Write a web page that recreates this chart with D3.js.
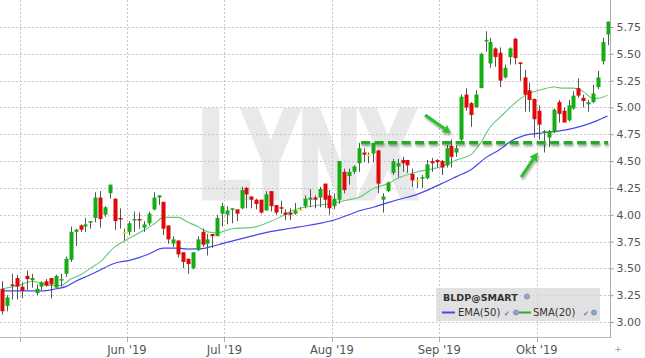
<!DOCTYPE html>
<html>
<head>
<meta charset="utf-8">
<script src="https://cdn.jsdelivr.net/npm/d3@7"></script>
<style>
  body { margin: 0; background: #fff; }
  svg { display: block; }
  text { font-family: "DejaVu Sans", Verdana, sans-serif; }
</style>
</head>
<body>
<svg id="chart" width="645" height="358"></svg>
<script>
// trading days, 25 Apr - 21 Oct 2019
const dates = [
  "04-25","04-26","04-29","04-30",
  "05-01","05-02","05-03","05-06","05-07","05-08","05-09","05-10","05-13","05-14","05-15","05-16","05-17","05-20","05-21","05-22","05-23","05-24","05-28","05-29","05-30","05-31",
  "06-03","06-04","06-05","06-06","06-07","06-10","06-11","06-12","06-13","06-14","06-17","06-18","06-19","06-20","06-21","06-24","06-25","06-26","06-27","06-28",
  "07-01","07-02","07-03","07-05","07-08","07-09","07-10","07-11","07-12","07-15","07-16","07-17","07-18","07-19","07-22","07-23","07-24","07-25","07-26","07-29","07-30","07-31",
  "08-01","08-02","08-05","08-06","08-07","08-08","08-09","08-12","08-13","08-14","08-15","08-16","08-19","08-20","08-21","08-22","08-23","08-26","08-27","08-28","08-29","08-30",
  "09-03","09-04","09-05","09-06","09-09","09-10","09-11","09-12","09-13","09-16","09-17","09-18","09-19","09-20","09-23","09-24","09-25","09-26","09-27","09-30",
  "10-01","10-02","10-03","10-04","10-07","10-08","10-09","10-10","10-11","10-14","10-15","10-16","10-17","10-18","10-21"
]

const open = [
  3.31,3.15,3.35,3.41,
  3.33,3.43,3.39,3.27,3.33,3.38,3.41,3.32,3.39,3.45,3.58,3.84,3.90,3.89,3.93,3.97,4.16,4.00,4.20,4.15,3.97,3.84,
  3.84,3.95,3.96,3.88,3.92,4.05,4.16,4.12,3.90,3.73,3.76,3.65,3.59,3.50,3.67,3.84,3.73,3.82,3.80,4.01,
  4.00,4.05,4.05,4.06,4.25,4.17,4.14,4.14,4.04,4.22,4.09,4.07,4.02,4.02,4.01,4.05,4.08,4.14,4.16,4.16,4.29,4.18,
  4.08,4.14,4.40,4.36,4.40,4.48,4.58,4.56,4.57,4.60,4.14,4.22,4.39,4.45,4.51,4.51,4.38,4.32,4.34,4.34,4.50,4.51,
  4.50,4.46,4.64,4.58,4.70,5.12,5.04,5.00,5.18,5.62,5.41,5.55,5.51,5.28,5.47,5.64,5.42,5.28,5.16,5.08,
  4.97,4.77,4.72,4.77,5.05,4.97,4.88,4.99,5.18,5.09,5.03,5.05,5.19,5.43,5.68
]
const high = [
  3.38,3.25,3.45,3.44,
  3.37,3.48,3.45,3.35,3.38,3.40,3.41,3.44,3.45,3.61,3.89,3.87,3.91,3.97,3.94,4.21,4.22,4.08,4.28,4.15,4.06,3.87,
  3.94,4.03,4.02,3.94,4.03,4.21,4.18,4.12,3.90,3.80,3.76,3.65,3.59,3.65,3.80,3.87,3.82,3.82,4.00,4.11,
  4.08,4.06,4.05,4.26,4.26,4.17,4.15,4.14,4.22,4.22,4.09,4.13,4.05,4.06,4.11,4.07,4.18,4.24,4.18,4.26,4.29,4.23,
  4.20,4.50,4.43,4.43,4.46,4.67,4.62,4.58,4.67,4.60,4.20,4.31,4.52,4.52,4.54,4.51,4.43,4.35,4.37,4.51,4.53,4.52,
  4.51,4.65,4.70,4.65,5.12,5.18,5.05,5.16,5.51,5.71,5.65,5.56,5.56,5.40,5.56,5.65,5.42,5.35,5.23,5.08,
  5.02,4.79,4.79,4.99,5.07,5.00,5.07,5.15,5.27,5.12,5.07,5.21,5.34,5.65,5.80
]
const low = [
  3.07,3.10,3.21,3.21,
  3.22,3.30,3.32,3.25,3.30,3.33,3.22,3.32,3.33,3.42,3.56,3.71,3.84,3.84,3.87,3.93,3.88,3.98,4.15,3.86,3.87,3.76,
  3.81,3.84,3.87,3.84,3.90,4.04,4.09,3.81,3.73,3.70,3.60,3.50,3.45,3.49,3.66,3.70,3.62,3.69,3.80,3.89,
  3.91,3.92,3.94,4.05,4.06,4.06,4.05,4.01,4.04,4.03,4.00,4.01,3.95,3.95,4.00,4.04,4.06,4.07,4.06,4.07,4.06,4.00,
  4.05,4.10,4.20,4.28,4.38,4.40,4.49,4.48,4.49,4.20,4.02,4.21,4.37,4.35,4.40,4.39,4.26,4.25,4.25,4.33,4.40,4.44,
  4.37,4.44,4.44,4.54,4.68,4.97,4.82,5.00,5.18,5.52,5.37,5.38,5.19,5.27,5.40,5.40,5.25,4.96,4.96,4.72,
  4.70,4.58,4.63,4.76,4.86,4.86,4.87,4.98,5.09,5.00,4.96,5.04,5.17,5.40,5.58
]
const close = [
  3.10,3.23,3.34,3.33,
  3.29,3.40,3.41,3.31,3.37,3.34,3.35,3.43,3.40,3.59,3.84,3.86,3.86,3.91,3.94,4.16,3.96,4.07,4.28,3.94,3.96,3.84,
  3.92,3.96,3.95,3.91,4.01,4.16,4.18,3.87,3.77,3.77,3.63,3.56,3.54,3.65,3.77,3.72,3.77,3.80,3.97,4.08,
  4.04,4.06,4.01,4.23,4.19,4.14,4.10,4.02,4.19,4.08,4.02,4.06,4.00,4.00,4.04,4.05,4.15,4.16,4.14,4.24,4.14,4.06,
  4.15,4.50,4.23,4.40,4.45,4.62,4.56,4.56,4.67,4.29,4.17,4.30,4.50,4.48,4.48,4.46,4.32,4.32,4.35,4.47,4.48,4.49,
  4.44,4.62,4.54,4.62,5.10,5.00,4.93,5.12,5.50,5.63,5.61,5.47,5.25,5.37,5.55,5.46,5.41,5.12,5.07,4.89,
  4.84,4.78,4.78,4.98,4.94,4.86,5.02,5.11,5.11,5.06,5.05,5.13,5.28,5.61,5.80
]

// moving averages
const smaDates = ["04-25","05-01","05-03","05-09","05-13","05-15","05-17","05-21","05-23","05-29","05-31","06-05","06-10","06-12","06-17","06-19","06-21","06-25","06-27","07-02","07-09","07-12","07-17","07-19","07-24","07-29","08-01","08-06","08-08","08-13","08-16","08-20","08-26","09-03","09-06","09-11","09-13","09-17","09-19","09-24","09-26","10-01","10-04","10-08","10-10","10-14","10-16","10-17","10-21"]
const smaValues = [3.31,3.35,3.38,3.34,3.34,3.40,3.44,3.50,3.56,3.70,3.755,3.83,3.91,3.975,3.975,3.93,3.89,3.84,3.83,3.87,3.88,3.92,3.98,4.03,4.07,4.09,4.11,4.14,4.16,4.245,4.29,4.34,4.40,4.45,4.51,4.56,4.67,4.82,4.91,5.04,5.11,5.16,5.19,5.18,5.18,5.15,5.085,5.085,5.115]
const emaDates = ["04-25","05-07","05-10","05-14","05-16","05-21","05-23","05-29","06-03","06-05","06-07","06-12","06-17","06-19","06-24","06-26","06-28","07-03","07-09","07-12","07-17","07-19","07-24","07-29","08-01","08-06","08-08","08-13","08-16","08-20","08-26","09-03","09-06","09-11","09-16","09-19","09-23","09-26","10-01","10-04","10-09","10-14","10-17","10-21"]
const emaValues = [3.29,3.29,3.31,3.33,3.38,3.44,3.485,3.548,3.575,3.60,3.634,3.688,3.688,3.68,3.684,3.706,3.73,3.765,3.80,3.833,3.858,3.874,3.895,3.92,3.951,4.00,4.035,4.07,4.113,4.14,4.19,4.29,4.355,4.42,4.53,4.61,4.68,4.74,4.76,4.774,4.795,4.83,4.88,4.92]

const yTicks = [3.00,3.25,3.50,3.75,4.00,4.25,4.50,4.75,5.00,5.25,5.50,5.75]
const monthStarts = ["05-01","06-03","07-01","08-01","09-03","10-01"]
const monthLabels = ["","Jun '19","Jul '19","Aug '19","Sep '19","Okt '19"]

// annotation: support level and two arrows (candle index, price)
const supportLevel = 4.67
const supportFrom = 73.5
const supportTo = 124.1
const arrowFrom = [[86.6, 4.93], [106.3, 4.35]]
const arrowTo = [[91.9, 4.76], [109.7, 4.58]]

const plotRight = 610, plotBottom = 338
const svg = d3.select("#chart")

const x = d3.scaleBand().domain(dates).range([0, plotRight]).paddingInner(0.3).paddingOuter(0.15)
const bw = x.bandwidth()
const xi = d3.scaleLinear().domain([0, dates.length - 1])
    .range([x(dates[0]) + bw / 2, x(dates[dates.length - 1]) + bw / 2])
const y = d3.scaleLinear().domain([3.0, 5.75]).range([322, 27])
const monthX = d => x(d) - x.step() * 0.15

const defs = svg.append("defs")
const shadow = defs.append("filter").attr("id", "shadow").attr("filterUnits", "userSpaceOnUse")
    .attr("x", 0).attr("y", 0).attr("width", 645).attr("height", 358)
shadow.append("feDropShadow").attr("dx", 1).attr("dy", 2).attr("stdDeviation", 1.3)
    .attr("flood-color", "#000").attr("flood-opacity", 0.35)

// watermark
svg.append("text")
    .attr("transform", "translate(199,197) scale(0.68,1)")
    .style("font-family", "Liberation Sans, Arial, sans-serif")
    .attr("font-weight", "bold")
    .attr("font-size", 124)
    .attr("fill", "#e9e9e9")
    .attr("stroke", "#e9e9e9").attr("stroke-width", 7).attr("stroke-linejoin", "miter")
    .text("LYNX")

// grid
svg.append("g").selectAll("line").data(yTicks).join("line")
    .attr("x1", 0).attr("x2", plotRight)
    .attr("y1", d => Math.round(y(d)) + 0.5).attr("y2", d => Math.round(y(d)) + 0.5)
    .attr("stroke", "#c8c8c8").attr("stroke-dasharray", "2,2")
svg.append("g").selectAll("line").data(monthStarts).join("line")
    .attr("x1", d => Math.round(monthX(d)) + 0.5).attr("x2", d => Math.round(monthX(d)) + 0.5)
    .attr("y1", 0).attr("y2", plotBottom)
    .attr("stroke", "#c8c8c8").attr("stroke-dasharray", "2,2")

// moving averages
const maLine = d3.line().x(d => x(d[0]) + bw / 2).y(d => y(d[1])).curve(d3.curveMonotoneX)
svg.append("path").datum(d3.zip(emaDates, emaValues))
    .attr("d", maLine).attr("fill", "none").attr("stroke", "#4646ee").attr("stroke-width", 1.2)
svg.append("path").datum(d3.zip(smaDates, smaValues))
    .attr("d", maLine).attr("fill", "none").attr("stroke", "#62c878").attr("stroke-width", 1.1)

// candles
const candles = dates.map((d, i) => ({date: d, o: open[i], h: high[i], l: low[i], c: close[i]}))
const cg = svg.append("g")
cg.selectAll("line").data(candles).join("line")
    .attr("x1", d => Math.round(x(d.date) + bw / 2) + 0.5)
    .attr("x2", d => Math.round(x(d.date) + bw / 2) + 0.5)
    .attr("y1", d => y(d.h)).attr("y2", d => y(d.l))
    .attr("stroke", "#555").attr("stroke-width", 1)
cg.selectAll("rect").data(candles).join("rect")
    .attr("x", d => Math.round(x(d.date) + bw / 2) - 1.5)
    .attr("width", 4)
    .attr("y", d => y(Math.max(d.o, d.c)))
    .attr("height", d => Math.max(1.5, Math.abs(y(d.o) - y(d.c))))
    .attr("fill", d => d.c > d.o ? "#14ae14" : d.c < d.o ? "#e00808" : "#f0e800")

// support line and arrows
svg.append("line")
    .attr("x1", xi(supportFrom)).attr("x2", xi(supportTo))
    .attr("y1", y(supportLevel)).attr("y2", y(supportLevel))
    .attr("stroke", "#25a825").attr("stroke-width", 3.5).attr("stroke-dasharray", "9,4.5")
    .attr("filter", "url(#shadow)")

const ag = svg.append("g").attr("filter", "url(#shadow)")
arrowFrom.forEach((f, k) => {
    const t = arrowTo[k]
    const x0 = xi(f[0]), y0 = y(f[1]), x1 = xi(t[0]), y1 = y(t[1])
    const ang = Math.atan2(y1 - y0, x1 - x0)
    const L = 8, Wd = 4.5
    const bx = x1 - L * Math.cos(ang), by = y1 - L * Math.sin(ang)
    ag.append("line").attr("x1", x0).attr("y1", y0).attr("x2", bx).attr("y2", by)
        .attr("stroke", "#2fbf2f").attr("stroke-width", 3.2)
    ag.append("path")
        .attr("d", `M${x1},${y1}L${bx + Wd * Math.sin(ang)},${by - Wd * Math.cos(ang)}L${bx - Wd * Math.sin(ang)},${by + Wd * Math.cos(ang)}Z`)
        .attr("fill", "#2fbf2f")
})

// right axis
const yAxis = svg.append("g").attr("transform", `translate(${plotRight + 0.5},0)`)
    .call(d3.axisRight(y).tickValues(yTicks).tickSize(3).tickPadding(3).tickFormat(d3.format(".2f")))
yAxis.select(".domain").remove()
yAxis.selectAll("line").attr("stroke", "#999")
yAxis.selectAll("text").attr("fill", "#555").attr("font-size", 11)
    .style("font-family", "DejaVu Sans, Verdana, sans-serif")
svg.append("line").attr("x1", plotRight + 0.5).attr("x2", plotRight + 0.5).attr("y1", 0).attr("y2", plotBottom)
    .attr("stroke", "#aaa")

// bottom axis
svg.append("line").attr("x1", 0).attr("x2", plotRight).attr("y1", plotBottom - 0.5).attr("y2", plotBottom - 0.5)
    .attr("stroke", "#bbb")
svg.append("g").selectAll("line").data(monthStarts).join("line")
    .attr("x1", d => Math.round(monthX(d)) + 0.5).attr("x2", d => Math.round(monthX(d)) + 0.5)
    .attr("y1", plotBottom).attr("y2", plotBottom + 4)
    .attr("stroke", "#aaa")
svg.append("g").selectAll("text").data(monthStarts).join("text")
    .attr("x", d => monthX(d)).attr("y", 354)
    .attr("text-anchor", "middle").attr("font-size", 11.5).attr("fill", "#555")
    .text((d, i) => monthLabels[i])
svg.append("text").attr("x", 618).attr("y", 352).attr("text-anchor", "middle")
    .attr("font-size", 9).attr("fill", "#999").text("+")

// legend
const lg = svg.append("g").attr("transform", "translate(436,288)")
lg.append("rect").attr("width", 164).attr("height", 33).attr("fill", "#d4d4d4").attr("fill-opacity", 0.7)
lg.append("text").attr("x", 7).attr("y", 13).attr("font-size", 9.5).attr("font-weight", "bold")
    .attr("fill", "#333").text("BLDP@SMART")
const icon = (g, cx, cy) => g.append("circle").attr("cx", cx).attr("cy", cy).attr("r", 2.6)
    .attr("fill", "#90a4c4").attr("stroke", "#6a7fa4").attr("stroke-width", 0.6)
icon(lg, 91, 8.5)
lg.append("line").attr("x1", 6).attr("x2", 19).attr("y1", 24.5).attr("y2", 24.5).attr("stroke", "#4646ee").attr("stroke-width", 2)
lg.append("text").attr("x", 22).attr("y", 28).attr("font-size", 10).attr("fill", "#333").text("EMA(50)")
lg.append("text").attr("x", 68).attr("y", 28).attr("font-size", 7).attr("fill", "#5a7ccc").text("✔")
icon(lg, 80, 24.5)
lg.append("line").attr("x1", 83).attr("x2", 95).attr("y1", 24.5).attr("y2", 24.5).attr("stroke", "#2ea82e").attr("stroke-width", 2)
lg.append("text").attr("x", 97).attr("y", 28).attr("font-size", 10).attr("fill", "#333").text("SMA(20)")
lg.append("text").attr("x", 147).attr("y", 28).attr("font-size", 7).attr("fill", "#5a7ccc").text("✔")
icon(lg, 158, 24.5)
</script>
</body>
</html>
